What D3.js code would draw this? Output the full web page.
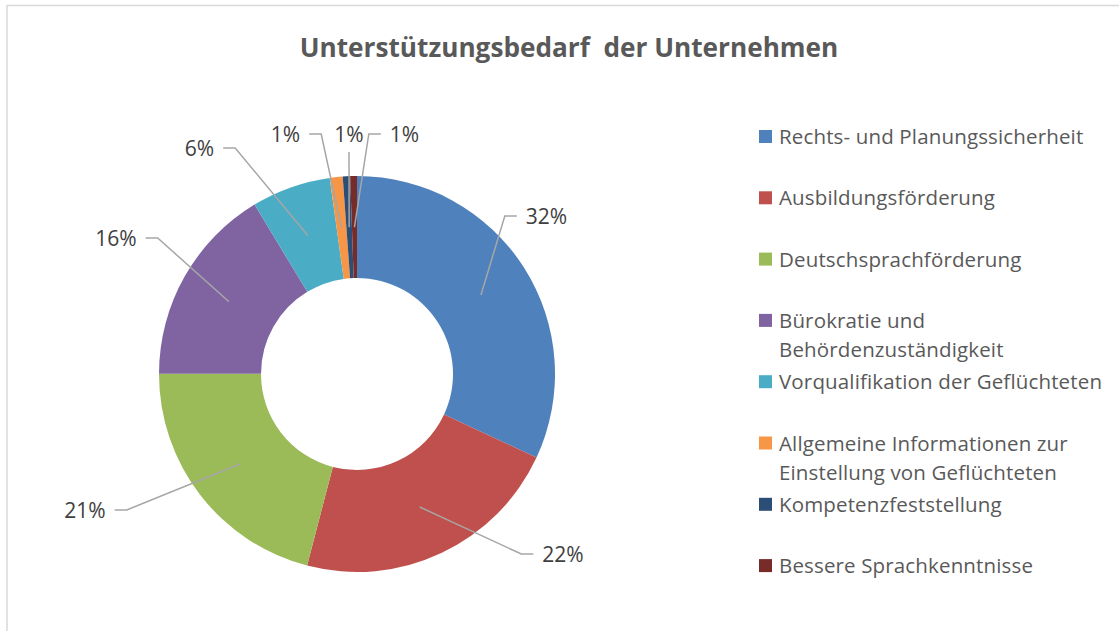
<!DOCTYPE html>
<html><head><meta charset="utf-8">
<script src="https://cdn.jsdelivr.net/npm/d3@7"></script>
<style>body{margin:0;background:#fff;} svg{display:block;}</style>
</head><body>
<svg id="chart" width="1119" height="631"></svg>
<script>
const title = "Unterstützungsbedarf  der Unternehmen";
const categories = [
  ["Rechts- und Planungssicherheit"],
  ["Ausbildungsförderung"],
  ["Deutschsprachförderung"],
  ["Bürokratie und", "Behördenzuständigkeit"],
  ["Vorqualifikation der Geflüchteten"],
  ["Allgemeine Informationen zur", "Einstellung von Geflüchteten"],
  ["Kompetenzfeststellung"],
  ["Bessere Sprachkenntnisse"]
];
const values = [31.9, 22.1, 20.95, 16.3, 6.45, 1.05, 0.6, 0.55];
const colors = ["#4f81bd", "#c0504d", "#9bbb59", "#8064a2", "#4bacc6", "#f79646", "#2c4d75", "#772c2a"];
// label anchor offsets from donut centre (layout)
const labelOffsets = [[189.5,-158],[206,180],[-272,136],[-241,-136],[-157.5,-226],[-71.5,-240],[-8,-240],[47.5,-240]];

const svg = d3.select("#chart");
const W = 1119, H = 631;
svg.append("rect").attr("x",7).attr("y",5.5).attr("width",W+10).attr("height",H+10)
  .attr("fill","#fff").attr("stroke","#d9d9d9").attr("stroke-width",1.5);

svg.append("text").attr("x",569).attr("y",57).attr("text-anchor","middle")
  .attr("font-family","Open Sans").attr("font-weight","bold").attr("font-size",26.2)
  .attr("fill","#595959").attr("xml:space","preserve").style("white-space","pre").text(title);

const cx = 357, cy = 374, rOuter = 198, rInner = 96;
const total = d3.sum(values);
const pie = d3.pie().sort(null).value(d => d)(values);
const arc = d3.arc().innerRadius(rInner).outerRadius(rOuter);
const g = svg.append("g").attr("transform",`translate(${cx},${cy})`);
g.selectAll("path.slice").data(pie).join("path").attr("class","slice")
  .attr("d",arc).attr("fill",(d,i)=>colors[i]);

const midArc = d3.arc().innerRadius((rInner+rOuter)/2).outerRadius((rInner+rOuter)/2);
const lg = g.append("g");
pie.forEach((d,i)=>{
  const c = midArc.centroid(d);
  const [lx, ly] = labelOffsets[i];
  const t = g.append("text").attr("x",lx).attr("y",ly).attr("dy","0.36em")
    .attr("text-anchor","middle").attr("font-family","Open Sans").attr("font-size",21)
    .attr("fill","#404040").text(Math.round(d.data/total*100)+"%");
  const w = t.node().getComputedTextLength();
  let pts;
  if (Math.abs(lx - c[0]) < 5) {
    pts = [[lx, ly+18],[c[0], c[1]]];
  } else if (lx > c[0]) {
    const e = lx - w/2 - 9;
    pts = [[e, ly],[e-12, ly],[c[0], c[1]]];
  } else {
    const e = lx + w/2 + 9;
    pts = [[e, ly],[e+12, ly],[c[0], c[1]]];
  }
  lg.append("path").attr("d", d3.line()(pts)).attr("fill","none")
    .attr("stroke","#a6a6a6").attr("stroke-width",1.5);
});
lg.raise();

const leg = svg.append("g");
const baseY = 144, step = 61.3, lineH = 29.5;
categories.forEach((lines,i)=>{
  const y = baseY + i*step;
  leg.append("rect").attr("x",759).attr("y",y-14).attr("width",13).attr("height",13).attr("fill",colors[i]);
  lines.forEach((s,j)=>{
    leg.append("text").attr("x",779).attr("y",y + j*lineH)
      .attr("font-family","Open Sans").attr("font-size",20.5).attr("letter-spacing",0.15)
      .attr("fill","#595959").text(s);
  });
});
</script>
</body></html>
